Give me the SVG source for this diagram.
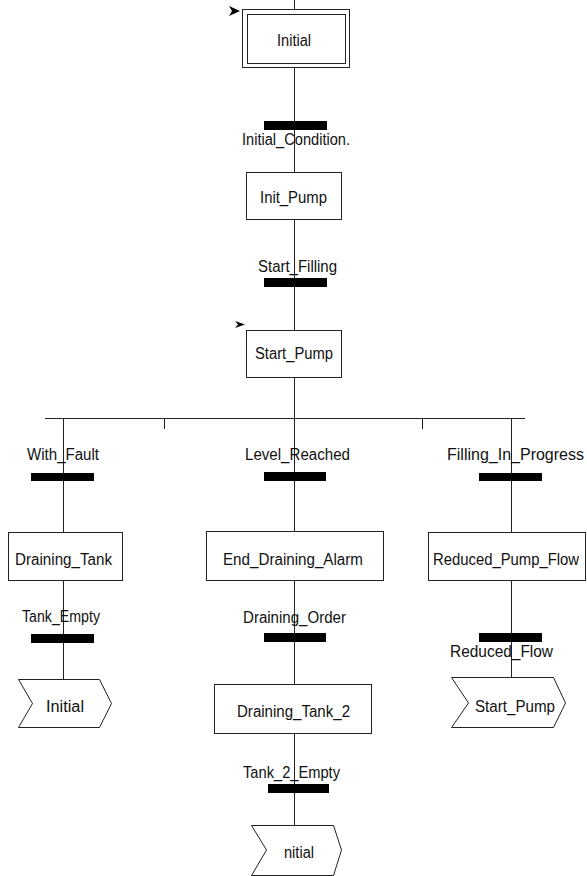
<svg xmlns="http://www.w3.org/2000/svg" width="587" height="876" viewBox="0 0 587 876">
  <style>
    .wire { stroke: #222; stroke-width: 1; fill: none; }
    .step { fill: #fff; stroke: #222; stroke-width: 1; }
    .bar { fill: #000; }
    .jump { fill: #fff; stroke: #222; stroke-width: 1; }
    .lbl { font-family: "Liberation Sans", Arial, sans-serif; font-size: 16px; fill: #111; }
    .init { fill: #000; }
  </style>

  <!-- links between steps and transitions -->
  <g id="connectors">
    <line class="wire" x1="294.5" y1="0" x2="294.5" y2="825"/>
    <line class="wire" x1="45" y1="418.5" x2="525" y2="418.5"/>
    <line class="wire" x1="63.5" y1="418" x2="63.5" y2="679"/>
    <line class="wire" x1="511.5" y1="418" x2="511.5" y2="678"/>
    <line class="wire" x1="164.5" y1="418" x2="164.5" y2="429"/>
    <line class="wire" x1="422.5" y1="418" x2="422.5" y2="429"/>
  </g>

  <!-- steps -->
  <g id="step-initial">
    <rect class="step" x="242.5" y="9.5" width="107" height="58"/>
    <rect class="step" x="247.5" y="14.5" width="98" height="49"/>
    <polygon class="init" points="229,6 240,11 229,16 232,11"/>
    <text class="lbl" x="277" y="46" textLength="34" lengthAdjust="spacingAndGlyphs">Initial</text>
  </g>
  <g id="step-init-pump">
    <rect class="step" x="246.5" y="172.5" width="95" height="47"/>
    <text class="lbl" x="260" y="203" textLength="67" lengthAdjust="spacingAndGlyphs">Init_Pump</text>
  </g>
  <g id="step-start-pump">
    <rect class="step" x="246.5" y="330.5" width="95" height="47"/>
    <polygon class="init" points="235,321 245,324.5 235,328 238,324.5"/>
    <text class="lbl" x="255" y="359" textLength="78" lengthAdjust="spacingAndGlyphs">Start_Pump</text>
  </g>
  <g id="step-draining-tank">
    <rect class="step" x="8.5" y="532.5" width="114" height="48"/>
    <text class="lbl" x="15" y="565" textLength="97" lengthAdjust="spacingAndGlyphs">Draining_Tank</text>
  </g>
  <g id="step-end-draining-alarm">
    <rect class="step" x="206.5" y="531.5" width="177" height="49"/>
    <text class="lbl" x="223" y="565" textLength="140" lengthAdjust="spacingAndGlyphs">End_Draining_Alarm</text>
  </g>
  <g id="step-reduced-pump-flow">
    <rect class="step" x="428.5" y="532.5" width="157" height="48"/>
    <text class="lbl" x="433" y="565" textLength="146" lengthAdjust="spacingAndGlyphs">Reduced_Pump_Flow</text>
  </g>
  <g id="step-draining-tank-2">
    <rect class="step" x="214.5" y="684.5" width="157" height="49"/>
    <text class="lbl" x="237" y="717" textLength="113" lengthAdjust="spacingAndGlyphs">Draining_Tank_2</text>
  </g>

  <!-- transitions -->
  <g id="tr-initial-condition">
    <rect class="bar" x="264" y="121" width="63" height="9"/>
    <text class="lbl" x="242" y="145" textLength="108" lengthAdjust="spacingAndGlyphs">Initial_Condition.</text>
  </g>
  <g id="tr-start-filling">
    <rect class="bar" x="264" y="278" width="63" height="9"/>
    <text class="lbl" x="258" y="272" textLength="79" lengthAdjust="spacingAndGlyphs">Start_Filling</text>
  </g>
  <g id="tr-with-fault">
    <rect class="bar" x="31" y="473" width="63" height="8"/>
    <text class="lbl" x="27" y="460" textLength="72" lengthAdjust="spacingAndGlyphs">With_Fault</text>
  </g>
  <g id="tr-level-reached">
    <rect class="bar" x="264" y="472" width="62" height="9"/>
    <text class="lbl" x="245" y="460" textLength="105" lengthAdjust="spacingAndGlyphs">Level_Reached</text>
  </g>
  <g id="tr-filling-in-progress">
    <rect class="bar" x="479" y="473" width="63" height="8"/>
    <text class="lbl" x="447" y="460" textLength="137" lengthAdjust="spacingAndGlyphs">Filling_In_Progress</text>
  </g>
  <g id="tr-tank-empty">
    <rect class="bar" x="31" y="634" width="63" height="9"/>
    <text class="lbl" x="22" y="622" textLength="78" lengthAdjust="spacingAndGlyphs">Tank_Empty</text>
  </g>
  <g id="tr-draining-order">
    <rect class="bar" x="264" y="633" width="62" height="9"/>
    <text class="lbl" x="243" y="623" textLength="103" lengthAdjust="spacingAndGlyphs">Draining_Order</text>
  </g>
  <g id="tr-reduced-flow">
    <rect class="bar" x="479" y="633" width="63" height="9"/>
    <text class="lbl" x="450" y="657" textLength="103" lengthAdjust="spacingAndGlyphs">Reduced_Flow</text>
  </g>
  <g id="tr-tank-2-empty">
    <rect class="bar" x="268" y="784" width="61" height="9"/>
    <text class="lbl" x="243" y="778" textLength="97" lengthAdjust="spacingAndGlyphs">Tank_2_Empty</text>
  </g>

  <!-- jumps -->
  <g id="jump-initial-left">
    <path class="jump" d="M18.5,679.5 L99.5,679.5 L111.5,703.5 L99.5,727.5 L18.5,727.5 L32.5,703.5 Z"/>
    <text class="lbl" x="46" y="712" textLength="38" lengthAdjust="spacingAndGlyphs">Initial</text>
  </g>
  <g id="jump-initial-center">
    <path class="jump" d="M251.5,825.5 L333.5,825.5 L341.5,850 L333.5,875.5 L251.5,875.5 L266.5,850 Z"/>
    <text class="lbl" x="284" y="858" textLength="30" lengthAdjust="spacingAndGlyphs">nitial</text>
  </g>
  <g id="jump-start-pump">
    <path class="jump" d="M451.5,677.5 L553.5,677.5 L565.5,703 L553.5,727.5 L451.5,727.5 L468.5,703 Z"/>
    <text class="lbl" x="475" y="712" textLength="80" lengthAdjust="spacingAndGlyphs">Start_Pump</text>
  </g>
</svg>
